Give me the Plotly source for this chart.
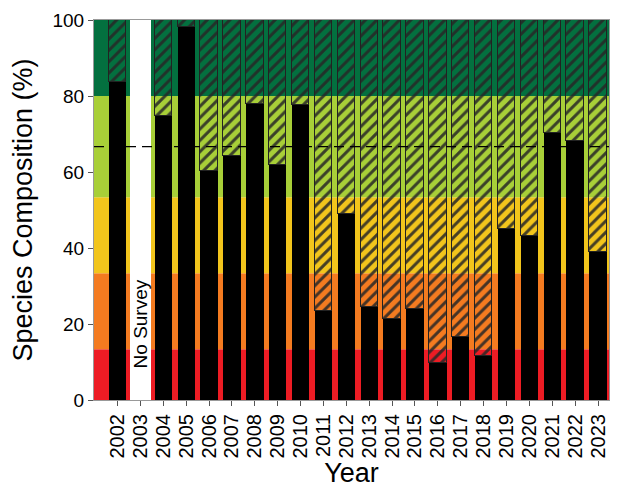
import plotly.graph_objects as go

years = [str(y) for y in range(2002, 2024)]
composition = [83.7, None, 74.8, 98.2, 60.3, 64.2, 77.9, 61.9, 77.6, 23.3, 49.0,
               24.4, 21.3, 23.9, 9.7, 16.5, 11.7, 45.1, 43.1, 70.2, 68.1, 38.9]
no_survey_year = "2003"
band_edges = [0, 13.33, 33.33, 53.33, 80, 100]
band_colors = ["#ED1C24", "#F47B20", "#F2C51C", "#A8CF38", "#03703F"]
threshold = 66.7

FONT = "Liberation Sans, Arial, sans-serif"

fig = go.Figure()

# background condition bands
for lo, hi, col in zip(band_edges[:-1], band_edges[1:], band_colors):
    fig.add_shape(type="rect", xref="paper", yref="y", x0=0, x1=1, y0=lo, y1=hi,
                  fillcolor=col, line_width=0, layer="below")

# black bars
fig.add_trace(go.Bar(x=years, y=composition, marker_color="black",
                     marker_line_width=0, width=0.76, showlegend=False))

# hatched remainder
remainder = [None if v is None else 100 - v for v in composition]
fig.add_trace(go.Bar(
    x=years, y=remainder, width=0.76, showlegend=False,
    marker=dict(color="rgba(0,0,0,0)",
                line=dict(color="#222222", width=1),
                pattern=dict(shape="/", fgcolor="#262626", bgcolor="rgba(0,0,0,0)",
                             fgopacity=0.85, size=8, solidity=0.38, fillmode="replace"))))

# no survey column
fig.add_trace(go.Bar(x=[no_survey_year], y=[100], width=0.95, marker_color="white",
                     marker_line_width=0, showlegend=False))

fig.add_annotation(x=years.index(no_survey_year), y=20, xref="x", yref="y",
                   text="No Survey", textangle=-90,
                   showarrow=False, font=dict(family=FONT, size=19, color="black"))

fig.add_shape(type="line", xref="paper", yref="y", x0=0, x1=1, y0=threshold, y1=threshold,
              line=dict(color="black", width=1.3, dash="10px,6px"), layer="above")

fig.update_layout(
    width=620, height=493,
    margin=dict(l=94, r=10, t=17, b=93),
    barmode="stack", bargap=0,
    paper_bgcolor="white", plot_bgcolor="white",
    font=dict(family=FONT, color="black"),
    xaxis=dict(type="category", range=[-1.03, 21.48], tickangle=-90,
               tickmode="array", tickvals=years, ticktext=years,
               ticks="outside", ticklen=5, tickcolor="#555",
               tickfont=dict(size=20, family=FONT),
               showline=True, linecolor="#999", linewidth=1, mirror=True,
               showgrid=False,
               title=dict(text="Year", font=dict(size=27, family=FONT), standoff=2)),
    yaxis=dict(range=[0, 100], tickvals=[0, 20, 40, 60, 80, 100],
               ticks="outside", ticklen=5, tickcolor="#555",
               tickfont=dict(size=19, family=FONT),
               showline=True, linecolor="#999", linewidth=1, mirror=True,
               showgrid=False, zeroline=False,
               title=dict(text="Species Composition (%)", font=dict(size=27, family=FONT),
                          standoff=12)),
)

fig.write_html("out.html")
